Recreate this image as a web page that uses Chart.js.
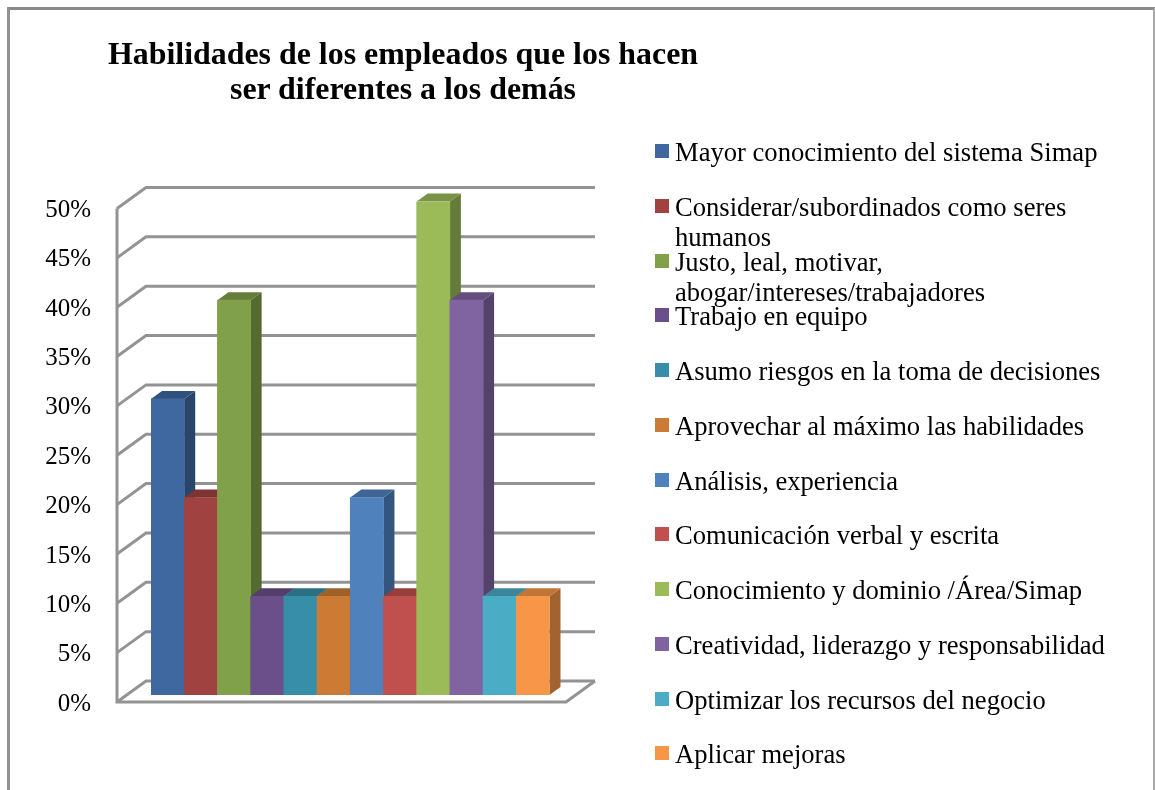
<!DOCTYPE html>
<html lang="es">
<head>
<meta charset="utf-8">
<title>Habilidades de los empleados</title>
<script src="https://cdn.jsdelivr.net/npm/chart.js@4"></script>
<style>
  html, body { margin: 0; padding: 0; background: #fff; }
  #wrap { position: relative; width: 1155px; height: 790px; overflow: hidden; font-family: "Liberation Serif", serif; color: #000; }
  #frame { position: absolute; left: 7px; top: 7px; width: 1143px; height: 900px; border-left: 3px solid #929292; border-top: 3px solid #8a8a8a; border-right: 2px solid #aaa; }
  #chart { position: absolute; left: 0; top: 0; }
  #title { position: absolute; left: 60px; top: 36px; width: 686px; text-align: center; font-weight: bold; font-size: 31.9px; line-height: 35px; }
  .legend-item { position: absolute; left: 655px; width: 460px; font-size: 26.6px; line-height: 30.5px; }
  .legend-item i { position: absolute; left: 0; top: 8px; width: 14px; height: 14px; }
  .legend-item span { display: block; margin-left: 20px; position: relative; top: 1px; }
</style>
</head>
<body>
<div id="wrap">
  <div id="frame"></div>
  <canvas id="chart" width="1155" height="790"></canvas>
  <div id="title">Habilidades de los empleados que los hacen<br>ser diferentes a los demás</div>
  <div id="legend"></div>
</div>
<script>
// ======================
// Data
// ======================
const categories = [
  "Mayor conocimiento del sistema Simap",
  "Considerar/subordinados como seres humanos",
  "Justo, leal, motivar, abogar/intereses/trabajadores",
  "Trabajo en equipo",
  "Asumo riesgos en la toma de decisiones",
  "Aprovechar al máximo las habilidades",
  "Análisis, experiencia",
  "Comunicación verbal y escrita",
  "Conocimiento y dominio /Área/Simap",
  "Creatividad, liderazgo y responsabilidad",
  "Optimizar los recursos del negocio",
  "Aplicar mejoras"
];
const values = [30, 20, 40, 10, 10, 10, 20, 10, 50, 40, 10, 10];
const barColors = ["#3e689f", "#a04340", "#80a04a", "#6a4f8a", "#378ea8", "#cc7b34",
                   "#4f81bd", "#c0504d", "#9bbb59", "#8064a2", "#4bacc6", "#f79646"];

// 3D look
const depthX = 11, depthY = 8;       // bar side / top
const wallX = 29;                    // left wall width
const frontDrop = 7, backRise = 14;  // grid plane vs bar plane
const floorRight = 566;

function shade(hex, f) {
  const n = parseInt(hex.slice(1), 16);
  const c = [n >> 16, (n >> 8) & 255, n & 255].map(v => Math.round(v * f));
  return `rgb(${c[0]},${c[1]},${c[2]})`;
}

function poly(ctx, pts, color) {
  ctx.fillStyle = color;
  ctx.beginPath();
  pts.forEach((p, i) => i ? ctx.lineTo(p[0], p[1]) : ctx.moveTo(p[0], p[1]));
  ctx.closePath();
  ctx.fill();
}

// ======================
// Walls, floor and bar sides (drawn under the bar fronts)
// ======================
const box3d = {
  id: "box3d",
  beforeDatasetsDraw(chart) {
    const ctx = chart.ctx, y = chart.scales.y;
    const fx = 117, bx = fx + wallX, brx = floorRight + wallX;

    ctx.save();
    ctx.strokeStyle = "#939393";
    ctx.lineWidth = 3;
    ctx.lineJoin = "miter";
    y.ticks.forEach(t => {
      const py = y.getPixelForValue(t.value);
      ctx.beginPath();
      ctx.moveTo(fx, py + frontDrop);
      ctx.lineTo(bx, py - backRise);
      ctx.lineTo(brx, py - backRise);
      ctx.stroke();
    });
    // front axis and floor
    const y0 = y.getPixelForValue(0), yMax = y.getPixelForValue(y.max);
    ctx.beginPath();
    ctx.moveTo(fx, yMax + frontDrop);
    ctx.lineTo(fx, y0 + frontDrop);
    ctx.lineTo(floorRight, y0 + frontDrop);
    ctx.lineTo(brx, y0 - backRise);
    ctx.stroke();
    ctx.restore();

    chart.getDatasetMeta(0).data.forEach((bar, i) => {
      const l = bar.x - bar.width / 2, r = bar.x + bar.width / 2;
      const top = bar.y, base = bar.base;
      poly(ctx, [[r, top], [r + depthX, top - depthY], [r + depthX, base - depthY], [r, base]], shade(barColors[i], 0.66));
      poly(ctx, [[l, top], [l + depthX, top - depthY], [r + depthX, top - depthY], [r, top]], shade(barColors[i], 0.78));
    });
  }
};

new Chart(document.getElementById("chart"), {
  type: "bar",
  data: {
    labels: categories,
    datasets: [{ data: values, backgroundColor: barColors, barPercentage: 1, categoryPercentage: 1 }]
  },
  options: {
    responsive: false,
    animation: false,
    layout: { padding: { top: 201.5, bottom: 95, right: 605.5, left: 0 } },
    plugins: { legend: { display: false }, title: { display: false }, tooltip: { enabled: false } },
    scales: {
      x: { display: false },
      y: {
        min: 0,
        max: 50,
        afterFit: s => { s.width = 151; },
        border: { display: false },
        grid: { display: false, drawTicks: false },
        ticks: {
          stepSize: 5,
          padding: 60,
          labelOffset: frontDrop + 2,
          color: "#000",
          font: { family: "Liberation Serif", size: 25 },
          callback: v => v + "%"
        }
      }
    }
  },
  plugins: [box3d]
});

// ======================
// Legend
// ======================
const legendEl = document.getElementById("legend");
categories.forEach((name, i) => {
  const item = document.createElement("div");
  item.className = "legend-item";
  item.style.top = (136 + i * 54.75) + "px";
  const box = document.createElement("i");
  box.style.background = barColors[i];
  const text = document.createElement("span");
  text.textContent = name;
  item.appendChild(box);
  item.appendChild(text);
  legendEl.appendChild(item);
});
</script>
</body>
</html>
